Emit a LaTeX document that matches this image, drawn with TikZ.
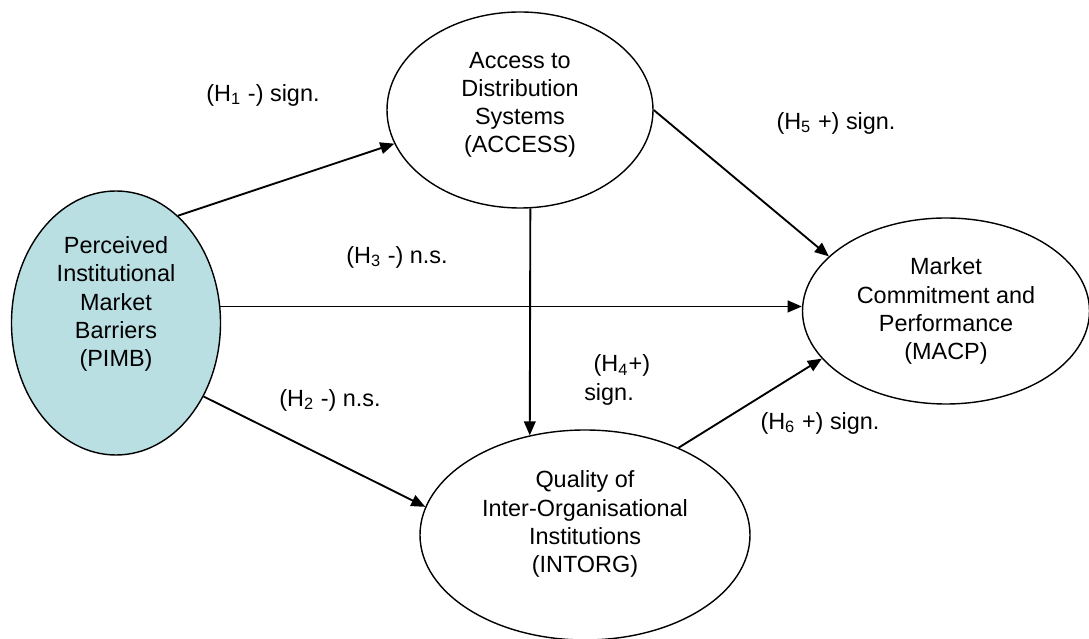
\documentclass[tikz,border=0pt]{standalone}
\usepackage{fontspec}
\setmainfont{Liberation Sans}
\usetikzlibrary{arrows.meta,positioning,shapes.geometric}
\definecolor{pimbblue}{RGB}{185,223,227}

\begin{document}
\begin{tikzpicture}[
  >={Triangle[length=6pt,width=5pt]},
  construct/.style={ellipse, draw, line width=0.6pt, inner sep=0pt},
  ctext/.style={align=center, font=\fontsize{10}{12}\selectfont},
  hyp/.style={font=\fontsize{10}{12}\selectfont},
  link/.style={->, line width=0.8pt}
]
\useasboundingbox (0,0) rectangle (16.335,9.585);

% Perceived barriers
\node[construct, fill=pimbblue, minimum width=3.135cm, minimum height=3.96cm,
  label={[ctext, yshift=0.285cm]center:Perceived\\Institutional\\Market\\Barriers\\(PIMB)}] (pimb) at (1.74,4.74) {};

% Access to distribution
\node[construct, minimum width=3.99cm, minimum height=2.94cm,
  label={[ctext, yshift=0.075cm]center:Access to\\Distribution\\Systems\\(ACCESS)}] (access) at (7.80,7.935) {};

% Market commitment
\node[construct, minimum width=4.305cm, minimum height=2.79cm,
  label={[ctext]center:Market\\Commitment and\\Performance\\(MACP)}] (macp) at (14.19,4.92) {};

% Inter-organisational institutions
\node[construct, minimum width=4.95cm, minimum height=3.15cm,
  label={[ctext, yshift=0.165cm]center:Quality of\\Inter-Organisational\\Institutions\\(INTORG)}] (intorg) at (8.775,1.56) {};

% Hypothesised paths
\draw[link] (pimb.60) -- (access.195);
\draw[link] (pimb.9) -- (pimb.9 -| macp.west);
\draw[link] (pimb.-40) -- (intorg.170);
\draw[link] (access.-84) -- (intorg.119.5);
\draw[link] (access.0) -- (macp.155);
\draw[link] (intorg.43) -- (macp.201);

% Path results
\node[hyp] (h1) at (3.945,8.16) {(H\textsubscript{1} -) sign.};
\node[hyp] (h3) at (5.955,5.73) {(H\textsubscript{3} -) n.s.};
\node[hyp] (h2) at (4.95,3.585) {(H\textsubscript{2} -) n.s.};
\node[hyp, align=left, anchor=west] (h4) at (8.64,3.885) {\hspace*{4pt}(H\textsubscript{4}+)\\sign.};
\node[hyp] (h5) at (12.54,7.74) {(H\textsubscript{5} +) sign.};
\node[hyp] (h6) at (12.30,3.24) {(H\textsubscript{6} +) sign.};
\end{tikzpicture}
\end{document}
